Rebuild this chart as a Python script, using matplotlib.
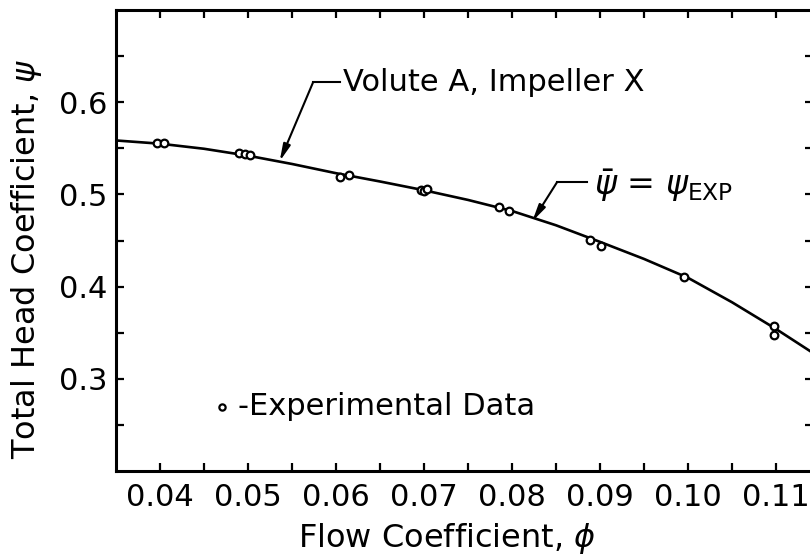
import matplotlib
matplotlib.use("Agg")
import matplotlib.pyplot as plt
from matplotlib.ticker import FixedLocator

# ---- data ----
curve_phi = [0.035, 0.040, 0.045, 0.050, 0.055, 0.060, 0.065, 0.070, 0.075,
             0.080, 0.085, 0.090, 0.095, 0.100, 0.105, 0.110, 0.1142]
curve_psi = [0.5585, 0.555, 0.5495, 0.542, 0.533, 0.523, 0.514, 0.5045, 0.494,
             0.482, 0.4665, 0.4485, 0.430, 0.4095, 0.383, 0.354, 0.328]

exp_phi = [0.0397, 0.0405, 0.0490, 0.0497, 0.0502, 0.0605, 0.0615, 0.0697,
           0.0700, 0.0703, 0.0785, 0.0796, 0.0889, 0.0901, 0.0995, 0.1098, 0.1098]
exp_psi = [0.556, 0.556, 0.545, 0.544, 0.543, 0.519, 0.521, 0.505,
           0.504, 0.506, 0.486, 0.482, 0.451, 0.444, 0.410, 0.357, 0.348]

x_major = [0.04, 0.05, 0.06, 0.07, 0.08, 0.09, 0.10, 0.11]
x_labels = ["0.04", "0.05", "0.06", "0.07", "0.08", "0.09", "0.10", "0.11"]
y_major = [0.3, 0.4, 0.5, 0.6]
y_labels = ["0.3", "0.4", "0.5", "0.6"]

plt.rcParams['font.family'] = ['DejaVu Sans']
FS_TICK = 22
FS_LABEL = 23
FS_NOTE = 22

fig = plt.figure(figsize=(8.1, 5.6), dpi=100)
ax = fig.add_axes([116 / 810, 1 - 471 / 560, (813 - 116) / 810, (471 - 10) / 560])

ax.plot(curve_phi, curve_psi, color='black', lw=1.9, zorder=2)
ax.plot(exp_phi, exp_psi, linestyle='none', marker='o', ms=5.5,
        mfc='white', mec='black', mew=1.6, zorder=3)

ax.set_xlim(0.035, 0.1142)
ax.set_ylim(0.2, 0.7)

ax.xaxis.set_major_locator(FixedLocator(x_major))
ax.set_xticklabels(x_labels)
ax.xaxis.set_minor_locator(FixedLocator([0.045, 0.055, 0.065, 0.075, 0.085,
                                         0.095, 0.105]))
ax.yaxis.set_major_locator(FixedLocator(y_major))
ax.set_yticklabels(y_labels)
ax.yaxis.set_minor_locator(FixedLocator([0.25, 0.35, 0.45, 0.55, 0.65]))

ax.tick_params(which='both', direction='in', top=True, right=True,
               width=1.6, length=6, labelsize=FS_TICK)
ax.tick_params(axis='x', pad=9)
ax.tick_params(axis='y', pad=6)
for s in ax.spines.values():
    s.set_linewidth(2.2)

ax.set_xlabel("Flow Coefficient, $\\phi$", fontsize=FS_LABEL)
ax.set_ylabel("Total Head Coefficient, $\\psi$", fontsize=FS_LABEL)
ax.xaxis.set_label_coords(0.475, -0.108)
ax.yaxis.set_label_coords(-0.103, 0.46)

arrow_kw = dict(arrowstyle='-|>,head_length=1.0,head_width=0.22',
                color='black', lw=1.5, shrinkA=0, shrinkB=0)

# annotation 1
ax.plot([0.0574, 0.0605], [0.6217, 0.6217], color='black', lw=1.5)
ax.annotate("", xy=(0.0536, 0.536), xytext=(0.0574, 0.6217), arrowprops=arrow_kw)
ax.text(0.0608, 0.6217, "Volute A, Impeller X", fontsize=FS_NOTE,
        va='center', ha='left')

# annotation 2
ax.plot([0.0851, 0.0885], [0.513, 0.513], color='black', lw=1.5)
ax.annotate("", xy=(0.0823, 0.4707), xytext=(0.0851, 0.513), arrowprops=arrow_kw)
ax.text(0.0893, 0.509, "$\\bar{\\psi}$ = $\\psi_{\\mathrm{EXP}}$", fontsize=FS_NOTE + 2,
        va='center', ha='left')

# legend-like note
ax.plot([0.04705], [0.2696], linestyle='none', marker='o', ms=4.5,
        mfc='white', mec='black', mew=1.6)
ax.text(0.0489, 0.2696, "-Experimental Data", fontsize=FS_NOTE, va='center', ha='left')

fig.savefig("out.png", dpi=100)
